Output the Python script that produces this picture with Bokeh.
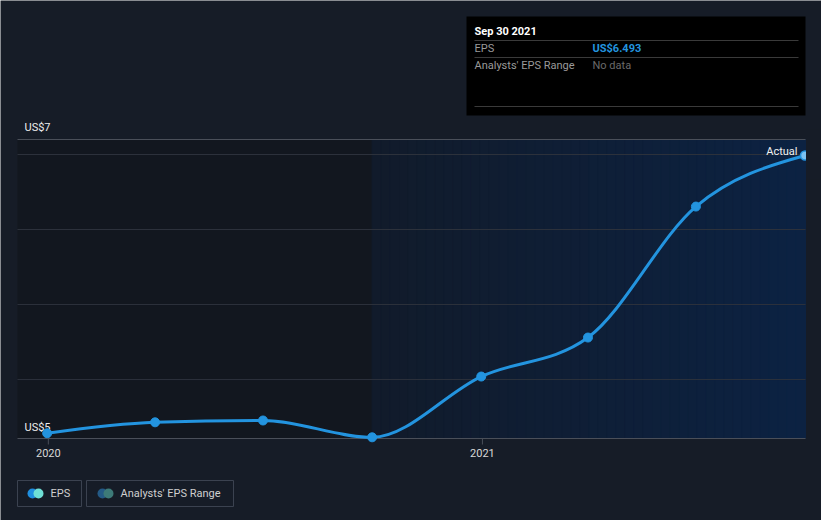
from datetime import datetime, timezone
import numpy as np
from bokeh.plotting import figure
from bokeh.models import Range1d
from bokeh.embed import file_html
from bokeh.resources import INLINE
from bokeh.core.properties import value

# ---------------- data ----------------
dates = ["2019-12-31", "2020-03-31", "2020-06-30", "2020-09-30",
         "2020-12-31", "2021-03-31", "2021-06-30", "2021-09-30"]
eps = [4.642, 4.715, 4.727, 4.615, 5.02, 5.28, 6.153, 6.493]
grid_values = [5.0, 5.5, 6.0, 6.5]
y_domain = [4.607, 6.6]
y_labels = ["US$5", "US$7"]
x_tick_dates = ["2020-01-01", "2021-01-01"]
x_tick_labels = ["2020", "2021"]
split_date = "2020-09-30"
x_domain_start = "2019-12-06"
tooltip_title = "Sep 30 2021"
tooltip_rows = ["EPS", "Analysts' EPS Range"]
tooltip_vals = ["US$6.493", "No data"]
legend_labels = ["EPS", "Analysts' EPS Range"]

# ---------------- style ----------------
W, H = 821, 520
L, R, T, B = 17, 805, 139, 438
BG = "#161c27"
LEFT_BG = "#12171f"
GRAD_A = (0x11, 0x1b, 0x2b)
GRAD_B = (0x0c, 0x22, 0x42)
LINE = "#2394df"
GRID = "#2c313b"
AXIS = "#4a4f59"
FONT = value("Roboto")


def ms(s):
    return datetime.fromisoformat(s).replace(tzinfo=timezone.utc).timestamp() * 1000.0


xs = np.array([ms(d) for d in dates])
ys = np.array(eps, dtype=float)

X_LO = ms(x_domain_start)
X_HI = ms(dates[-1]) + 0.4 * 86400000
Y_LO, Y_HI = y_domain

sx = (R - L) / (X_HI - X_LO)
sy = (B - T) / (Y_HI - Y_LO)

p = figure(width=W, height=H,
           x_range=Range1d(X_LO - L / sx, X_HI + (W - R) / sx),
           y_range=Range1d(Y_LO - (H - B) / sy, Y_HI + T / sy),
           x_axis_location=None, y_axis_location=None,
           toolbar_location=None, output_backend="svg", min_border=0,
           background_fill_color=BG, border_fill_color=BG,
           outline_line_color=None)
p.grid.visible = False
p.extra_x_ranges = {"px": Range1d(0, W)}
p.extra_y_ranges = {"px": Range1d(H, 0)}
PX = dict(x_range_name="px", y_range_name="px")

# background regions
split = ms(split_date)
p.quad(left=[X_LO], right=[split], bottom=[Y_LO], top=[Y_HI],
       fill_color=LEFT_BG, line_color=None)
n_strips = 48
edges = np.linspace(split, X_HI, n_strips + 1)
cols = []
for i in range(n_strips):
    f = i / (n_strips - 1)
    c = tuple(int(round(a + (b - a) * f)) for a, b in zip(GRAD_A, GRAD_B))
    cols.append("#%02x%02x%02x" % c)
p.quad(left=edges[:-1], right=edges[1:], bottom=Y_LO, top=Y_HI,
       fill_color=cols, line_color=cols, line_width=1)

# grid
p.segment(x0=X_LO, x1=X_HI, y0=grid_values, y1=grid_values,
          line_color=GRID, line_width=1)
p.segment(x0=[X_LO, X_LO], x1=[X_HI, X_HI], y0=[Y_LO, Y_HI], y1=[Y_LO, Y_HI],
          line_color=AXIS, line_width=1)

# x ticks
tx = [ms(d) for d in x_tick_dates]
p.segment(x0=tx, x1=tx, y0=Y_LO, y1=Y_LO - 6 / sy, line_color=AXIS, line_width=1)
p.text(x=tx, y=Y_LO, text=x_tick_labels, y_offset=14,
       text_align="center", text_baseline="middle",
       text_font=FONT, text_font_size=value("11px"), text_color="#d8d8d8")

# y labels
p.text(x=X_LO, y=y_domain, text=y_labels, x_offset=7, y_offset=[-11, -12],
       text_align="left", text_baseline="middle",
       text_font=FONT, text_font_size=value("11px"), text_color="#eeeeee")

# monotone cubic (d3 curveMonotoneX) control points
h = np.diff(xs)
s = np.diff(ys) / h
n = len(xs)
t = np.zeros(n)
for i in range(1, n - 1):
    pp = (s[i - 1] * h[i] + s[i] * h[i - 1]) / (h[i - 1] + h[i])
    t[i] = (np.sign(s[i - 1]) + np.sign(s[i])) * min(abs(s[i - 1]), abs(s[i]), 0.5 * abs(pp))
t[0] = (3 * s[0] - t[1]) / 2
t[-1] = (3 * s[-1] - t[-2]) / 2
d = h / 3
p.bezier(x0=xs[:-1], y0=ys[:-1], x1=xs[1:], y1=ys[1:],
         cx0=xs[:-1] + d, cy0=ys[:-1] + d * t[:-1],
         cx1=xs[1:] - d, cy1=ys[1:] - d * t[1:],
         line_color=LINE, line_width=3)
p.scatter(x=xs[:-1], y=ys[:-1], size=9, fill_color=LINE, line_color=LINE)
p.scatter(x=xs[-1:], y=ys[-1:], size=9, fill_color="#7cc2f2", line_color=LINE, line_width=1.5)

# mask outside the plot area on the right (the reference clips the last marker)
p.quad(left=[R + 0.5], right=[W], top=[T - 10], bottom=[T + 40],
       fill_color=BG, line_color=None, **PX)

p.text(x=X_HI, y=ys[-1], text=["Actual"], x_offset=-8, y_offset=-4,
       text_align="right", text_baseline="middle",
       text_font=FONT, text_font_size=value("11px"), text_color="#f2f2f2")

# tooltip box
p.quad(left=[466], right=[805], top=[16], bottom=[115], fill_color="#000000",
       line_color=None, **PX)
p.segment(x0=474, x1=798, y0=[40, 57, 106], y1=[40, 57, 106],
          line_color="#3a3a3a", line_width=1, **PX)
p.text(x=[474], y=[31], text=[tooltip_title], text_baseline="middle",
       text_font=FONT, text_font_size=value("11px"), text_color="#ffffff",
       text_font_style="bold", **PX)
p.text(x=474, y=[48, 65], text=tooltip_rows, text_baseline="middle",
       text_font=FONT, text_font_size=value("11px"), text_color="#9a9a9a", **PX)
p.text(x=[592], y=[48], text=[tooltip_vals[0]], text_baseline="middle",
       text_font=FONT, text_font_size=value("11px"), text_color=LINE,
       text_font_style="bold", **PX)
p.text(x=[592], y=[65], text=[tooltip_vals[1]], text_baseline="middle",
       text_font=FONT, text_font_size=value("11px"), text_color="#6a6a6a", **PX)

# legend
p.quad(left=[17, 86], right=[81, 233], top=[480, 480], bottom=[506, 506],
       fill_color=None, line_color="#3b4250", line_width=1, **PX)
p.scatter(x=[32, 38], y=[493, 493], size=10, fill_color=["#1f8fe0", "#6fe0d6"],
          line_color=None, **PX)
p.scatter(x=[102, 108], y=[493, 493], size=10, fill_color=["#245a86", "#3d7a78"],
          line_color=None, **PX)
p.text(x=[50, 120], y=[493, 493], text=legend_labels, text_baseline="middle",
       text_font=FONT, text_font_size=value("11px"), text_color="#cfcfcf", **PX)

open("out.html", "w").write(file_html(p, INLINE))
